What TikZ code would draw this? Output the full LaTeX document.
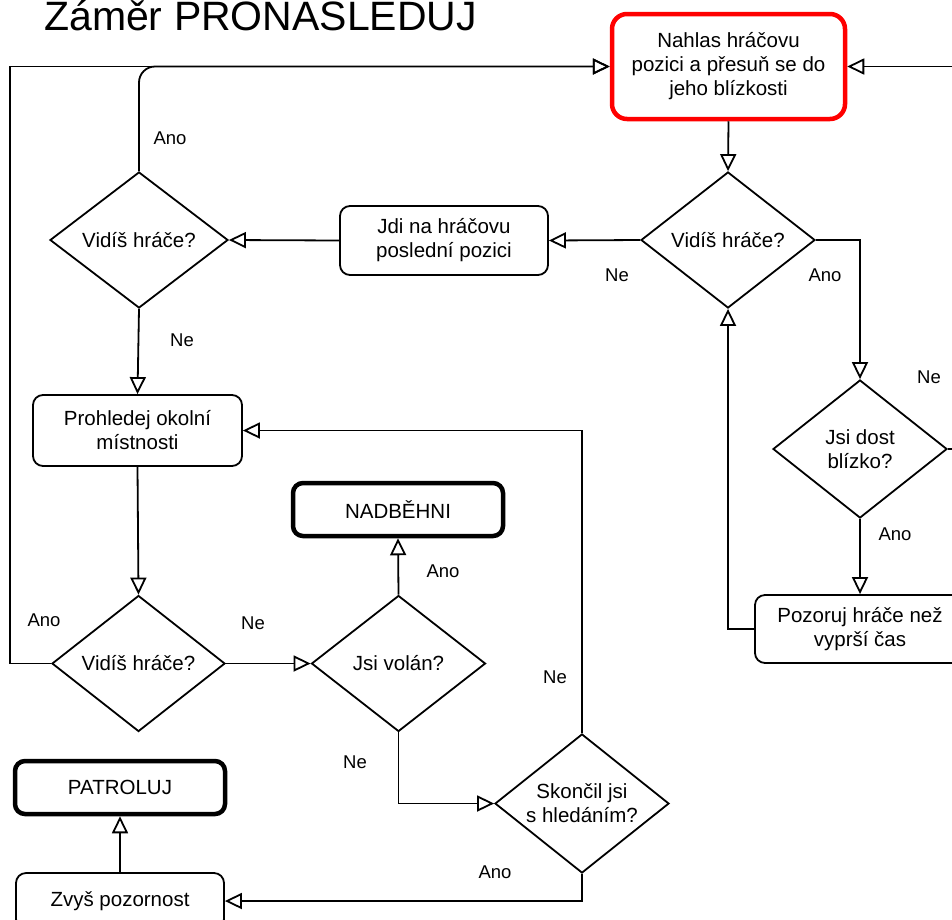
\documentclass[tikz,border=0pt]{standalone}
\usepackage{fontspec}
\setmainfont{Liberation Sans}
\usetikzlibrary{arrows.meta,shapes.geometric}

\newcommand\bodyfont{\fontsize{20.5}{24}\selectfont}
\newcommand\lblfont{\fontsize{18.5}{22}\selectfont}
\newcommand\titlefont{\fontsize{41}{48}\selectfont}

\tikzset{
  flow/.style={draw=black, line width=1.8pt},
  arr/.style={flow, -{Triangle[open, length=17pt, width=16pt]}},
  stepbox/.style={draw=black, line width=1.8pt, rounded corners=10pt,
    align=center, font=\bodyfont, inner sep=0pt,
    minimum width=208pt, minimum height=69pt},
  startbox/.style={stepbox, draw=red, line width=4.5pt, rounded corners=15pt,
    minimum width=233pt, minimum height=105pt},
  endbox/.style={stepbox, line width=4.5pt, minimum width=210pt, minimum height=53pt},
  decision/.style={draw=black, line width=1.8pt, shape=diamond, aspect=1.28,
    inner sep=0pt, align=center, font=\bodyfont,
    minimum width=174pt, minimum height=136pt},
  lbl/.style={font=\lblfont, inner sep=0pt},
}

\begin{document}
\begin{tikzpicture}[x=1pt, y=-1pt]
\useasboundingbox (0,0) rectangle (952,919);
\clip (0,0) rectangle (952,919);

% title
\node[anchor=base west, font=\titlefont, inner sep=0pt] (title) at (44,30) {Záměr PRONÁSLEDUJ};

% boxes
\node[startbox] (start) at (728.5,66.5) {Nahlas hráčovu\\pozici a přesuň se do\\jeho blízkosti};
\node[stepbox] (jdi) at (444,240.5) {Jdi na hráčovu\\poslední pozici};
\node[stepbox, minimum width=209pt, minimum height=71pt] (prohl) at (137.5,430.5) {Prohledej okolní\\místnosti};
\node[endbox] (nad) at (398,509.5) {NADBĚHNI};
\node[endbox] (patrol) at (120,787.5) {PATROLUJ};
\node[stepbox, minimum height=56pt] (zvys) at (120,901) {Zvyš pozornost};
\node[stepbox, minimum width=210pt, minimum height=68pt] (poz) at (860,629) {Pozoruj hráče než\\vyprší čas};

% decisions
\node[decision] (d1) at (728,240) {Vidíš hráče?};
\node[decision, minimum width=178pt] (d2) at (139,240) {Vidíš hráče?};
\node[decision, minimum width=173pt] (d3) at (138.5,663.5) {Vidíš hráče?};
\node[decision] (d4) at (398.5,663.5) {Jsi volán?};
\node[decision, minimum height=139pt] (d5) at (582,803.5) {Skončil jsi\\s hledáním?};
\node[decision, minimum height=138pt] (d6) at (860,449) {Jsi dost\\blízko?};

% rails running along the outer edges
\coordinate (leftrail) at (10,0);
\coordinate (rightrail) at (975,0);

% connectors
\draw[arr] (start.south) -- (d1.north);
\draw[arr] (d1.west) -- (jdi.east);
\draw[arr] (jdi.west) -- (d2.east);
\draw[arr, rounded corners=16pt] (d2.north) |- (start.west);
\draw[arr] (d2.south) -- (prohl.north);
\draw[arr] (prohl.south) -- (d3.north);
\draw[arr] (d3.west) -| (leftrail |- start.west) -- (start.west);
\draw[arr] (d3.east) -- (d4.west);
\draw[arr] (d4.north) -- (nad.south);
\draw[arr] (d4.south) |- (d5.west);
\draw[arr] (d5.north) |- (prohl.east);
\draw[arr] (d5.south) |- (zvys.east);
\draw[arr] (zvys.north) -- (patrol.south);
\draw[arr] (d1.east) -| (d6.north);
\draw[arr] (d6.south) -- (poz.north);
\draw[arr] (d6.east) -| (rightrail |- start.east) -- (start.east);
\draw[arr] (poz.west) -| (d1.south);

% branch labels
\node[lbl] (l1) at (617,275) {Ne};
\node[lbl] (l2) at (825,275) {Ano};
\node[lbl] (l3) at (170,138) {Ano};
\node[lbl] (l4) at (182,340) {Ne};
\node[lbl] (l5) at (929,377) {Ne};
\node[lbl] (l6) at (895,534) {Ano};
\node[lbl] (l7) at (443,571) {Ano};
\node[lbl] (l8) at (44,620) {Ano};
\node[lbl] (l9) at (253,623) {Ne};
\node[lbl] (l10) at (555,677) {Ne};
\node[lbl] (l11) at (355,762) {Ne};
\node[lbl] (l12) at (495,872) {Ano};
\end{tikzpicture}
\end{document}
